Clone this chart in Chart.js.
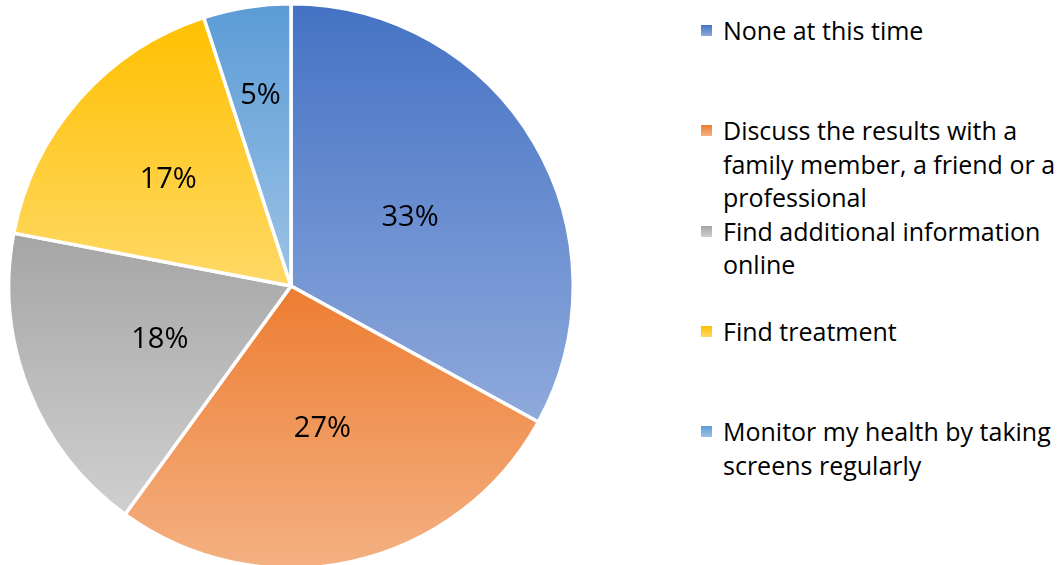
<!DOCTYPE html>
<html>
<head>
<meta charset="utf-8">
<script src="https://cdn.jsdelivr.net/npm/chart.js@4/dist/chart.umd.min.js"></script>
<style>
  html, body { margin: 0; padding: 0; background: #fff; overflow: hidden; }
  body { width: 1060px; height: 565px; position: relative; font-family: "Open Sans", sans-serif; }
  #pie-wrap { position: absolute; left: 7px; top: 2px; width: 568px; height: 568px; }
  .legend-item { position: absolute; left: 701px; width: 372px; font-size: 25px; line-height: 33.5px; color: #000; }
  .legend-item .swatch { position: absolute; left: 0; top: 11px; width: 11px; height: 11px; }
  .legend-item .text { margin-left: 22px; }
</style>
</head>
<body>
<div id="pie-wrap"><canvas id="chart-pie"></canvas></div>
<div id="legend"></div>
<script>
var CATEGORIES = [
  "None at this time",
  "Discuss the results with a family member, a friend or a professional",
  "Find additional information online",
  "Find treatment",
  "Monitor my health by taking screens regularly",
];
var VALUES = [33, 27, 18, 17, 5];

// gradient ends for each slice (top -> bottom)
var TOP_COLORS = ["#4472C4", "#ED7D31", "#A5A5A5", "#FFC000", "#5B9BD5"];
var BOTTOM_COLORS = ["#8FAADC", "#F4B183", "#D0D0D0", "#FFD966", "#9DC3E6"];

// how far out along the radius each percent label sits
var LABEL_RADIUS = [0.49, 0.51, 0.5, 0.58, 0.69];

function sliceGradient(ctx) {
  var i = ctx.dataIndex;
  if (i === undefined) return TOP_COLORS[0];
  var area = ctx.chart.chartArea;
  if (!area) return TOP_COLORS[i];
  var cx = (area.left + area.right) / 2;
  var cy = (area.top + area.bottom) / 2;
  var r = Math.min(area.width, area.height) / 2;
  var total = VALUES.reduce(function (a, b) { return a + b; }, 0);
  var before = 0;
  for (var k = 0; k < i; k++) before += VALUES[k];
  var start = -Math.PI / 2 + (2 * Math.PI * before) / total;
  var end = start + (2 * Math.PI * VALUES[i]) / total;
  var minY = cy, maxY = cy;
  for (var t = 0; t <= 60; t++) {
    var y = cy + r * Math.sin(start + ((end - start) * t) / 60);
    if (y < minY) minY = y;
    if (y > maxY) maxY = y;
  }
  var g = ctx.chart.ctx.createLinearGradient(0, minY, 0, maxY);
  g.addColorStop(0, TOP_COLORS[i]);
  g.addColorStop(1, BOTTOM_COLORS[i]);
  return g;
}

var percentLabels = {
  id: "percentLabels",
  afterDatasetsDraw: function (chart) {
    var c = chart.ctx;
    var meta = chart.getDatasetMeta(0);
    c.save();
    c.font = '29px "Open Sans"';
    c.fillStyle = "#000";
    c.textAlign = "center";
    c.textBaseline = "alphabetic";
    meta.data.forEach(function (arc, i) {
      var p = arc.getProps(["x", "y", "startAngle", "endAngle", "outerRadius"], true);
      var mid = (p.startAngle + p.endAngle) / 2;
      var r = p.outerRadius * LABEL_RADIUS[i];
      // baseline shifted so the digits sit centred on the point
      c.fillText(VALUES[i] + "%", p.x + r * Math.cos(mid), p.y + r * Math.sin(mid) + 10.5);
    });
    c.restore();
  },
};

new Chart(document.getElementById("chart-pie"), {
  type: "pie",
  data: {
    labels: CATEGORIES,
    datasets: [
      {
        data: VALUES,
        backgroundColor: sliceGradient,
        borderColor: "#fff",
        borderWidth: 3.5,
      },
    ],
  },
  options: {
    responsive: true,
    maintainAspectRatio: false,
    animation: false,
    layout: { padding: 0 },
    plugins: { legend: { display: false }, tooltip: { enabled: false } },
  },
  plugins: [percentLabels],
});

// legend slots, 100px apart, first line centred on the slot
var legend = document.getElementById("legend");
CATEGORIES.forEach(function (name, i) {
  var item = document.createElement("div");
  item.className = "legend-item";
  item.style.top = (31 + 100.2 * i - 16.75) + "px";
  var sw = document.createElement("div");
  sw.className = "swatch";
  sw.style.background = "linear-gradient(" + TOP_COLORS[i] + "," + BOTTOM_COLORS[i] + ")";
  var tx = document.createElement("div");
  tx.className = "text";
  tx.textContent = name;
  item.appendChild(sw);
  item.appendChild(tx);
  legend.appendChild(item);
});
</script>
</body>
</html>
